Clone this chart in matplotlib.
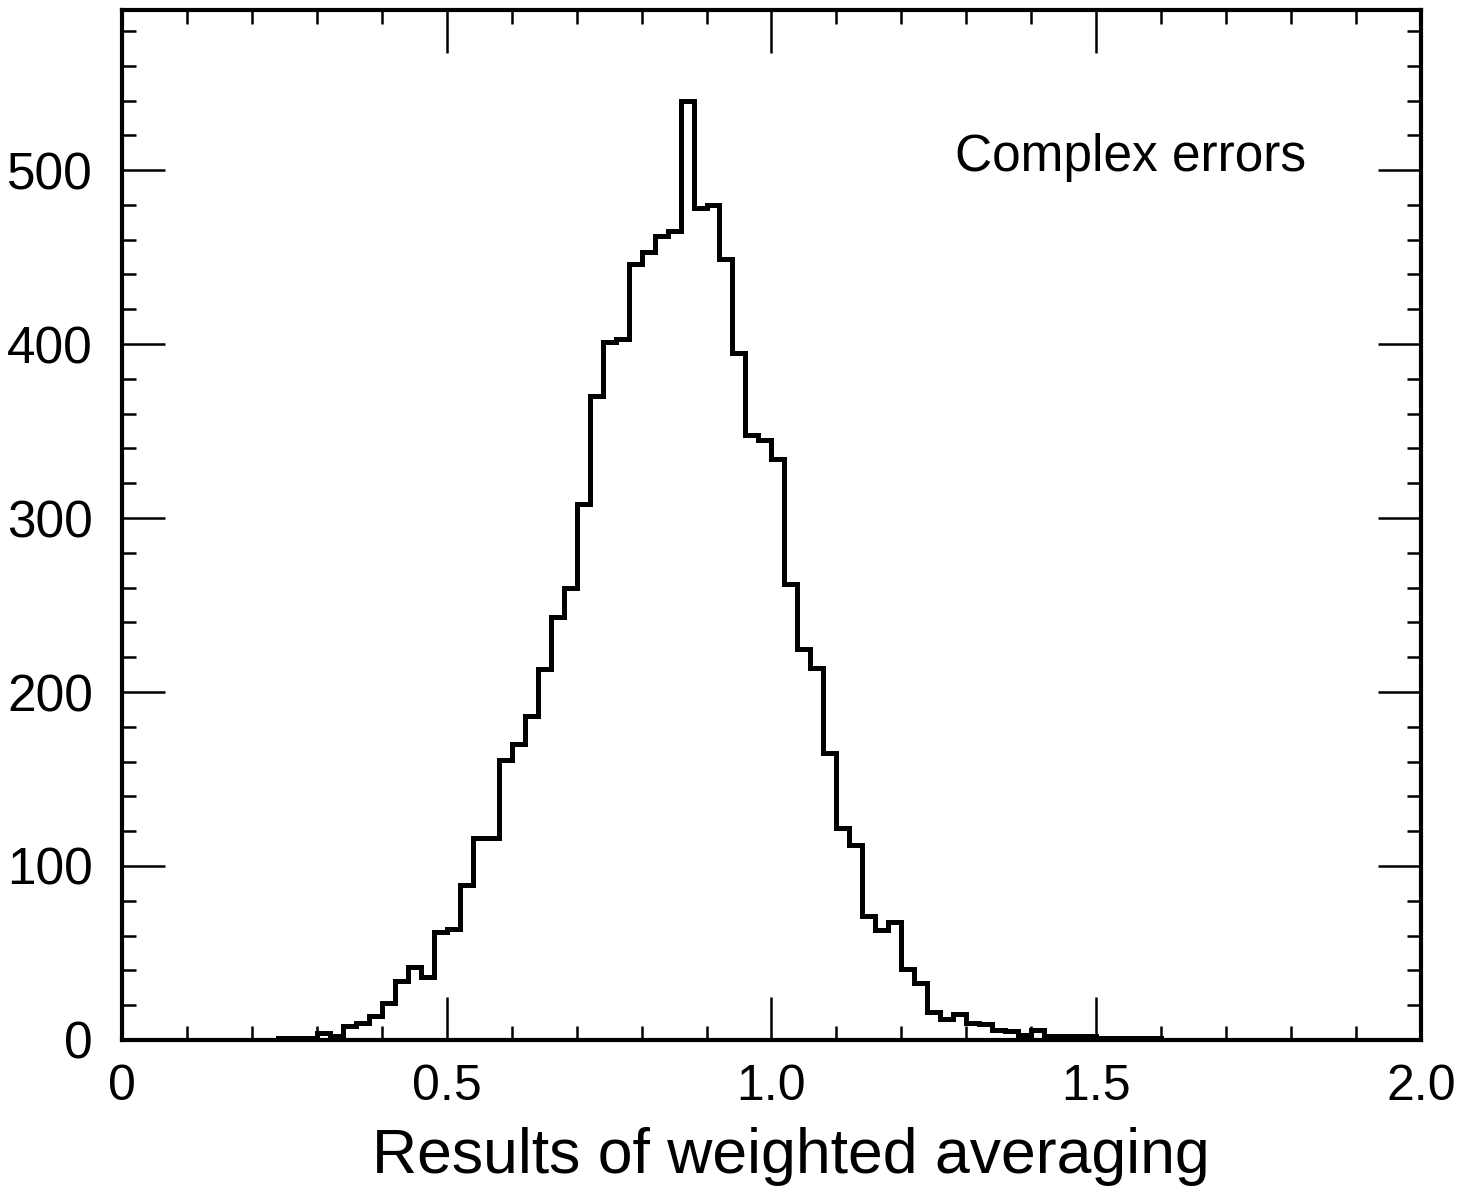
#!/usr/bin/env python
"""Histogram of weighted-averaging results (complex errors)."""

import matplotlib

matplotlib.use("Agg")
import matplotlib.pyplot as plt
import numpy as np
from matplotlib.ticker import MultipleLocator

# Histogram counts. Bins are 0.02 wide, first bin at 0.20.
bin_start = 0.20
bin_width = 0.02
counts = [
    0, 0, 1, 1, 1,                      # 0.20 - 0.28
    4, 2, 8, 10, 14,                    # 0.30 - 0.38
    21, 34, 42, 36, 62,                 # 0.40 - 0.48
    64, 89, 116, 116, 161,              # 0.50 - 0.58
    170, 186, 213, 243, 260,            # 0.60 - 0.68
    308, 370, 401, 403, 446,            # 0.70 - 0.78
    453, 462, 465, 540, 478,            # 0.80 - 0.88
    480, 449, 395, 348, 345,            # 0.90 - 0.98
    334, 262, 225, 214, 165,            # 1.00 - 1.08
    122, 112, 71, 63, 68,               # 1.10 - 1.18
    41, 33, 16, 12, 15,                 # 1.20 - 1.28
    10, 9, 6, 5, 3,                     # 1.30 - 1.38
    6, 2, 2, 2, 2,                      # 1.40 - 1.48
    1, 1, 1, 1, 1,                      # 1.50 - 1.58
    0,
]

x_ticks = [0.0, 0.5, 1.0, 1.5, 2.0]
x_tick_labels = ["0", "0.5", "1.0", "1.5", "2.0"]
y_ticks = [0, 100, 200, 300, 400, 500]
y_tick_labels = ["0", "100", "200", "300", "400", "500"]

xlabel = "Results of weighted averaging"
annotation = "Complex errors"


def main():
    plt.rcParams["font.family"] = ["Liberation Sans", "DejaVu Sans"]

    fig = plt.figure(figsize=(14.64, 11.97), dpi=100)
    ax = fig.add_axes([0.0833, 0.1312, 0.8873, 0.8604])

    edges = bin_start + bin_width * np.arange(len(counts) + 1)
    ax.stairs(counts, edges, color="black", linewidth=3.6, baseline=0)

    ax.set_xlim(0.0, 2.0)
    ax.set_ylim(0, 592)

    ax.set_xticks(x_ticks)
    ax.set_xticklabels(x_tick_labels)
    ax.set_yticks(y_ticks)
    ax.set_yticklabels(y_tick_labels)
    ax.xaxis.set_minor_locator(MultipleLocator(0.1))
    ax.yaxis.set_minor_locator(MultipleLocator(20))

    ax.tick_params(
        which="both", direction="in", top=True, right=True,
        colors="black", width=1.8,
    )
    ax.tick_params(which="major", length=31)
    ax.tick_params(which="minor", length=10)
    ax.tick_params(axis="x", which="major", pad=17, labelsize=36)
    ax.tick_params(axis="y", which="major", pad=21, labelsize=37)

    for spine in ax.spines.values():
        spine.set_linewidth(3.0)

    ax.set_xlabel(xlabel, fontsize=45)
    ax.xaxis.set_label_coords(0.515, -0.085)

    ax.text(1.282, 507, annotation, fontsize=37, ha="left", va="center")

    fig.savefig("out.png", dpi=100)


if __name__ == "__main__":
    main()
